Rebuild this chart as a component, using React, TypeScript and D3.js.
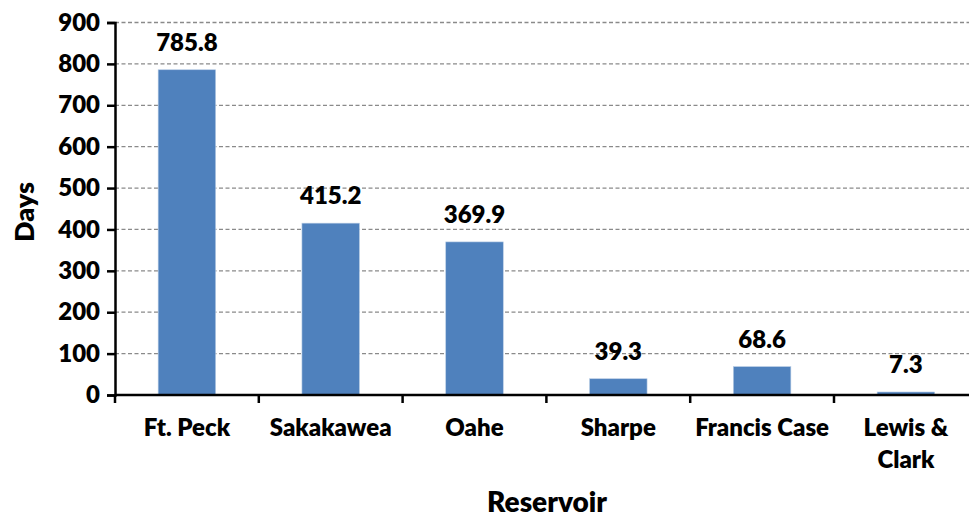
import React, { useEffect, useRef } from 'react';
import * as d3 from 'd3';

const reservoirs = ['Ft. Peck', 'Sakakawea', 'Oahe', 'Sharpe', 'Francis Case', 'Lewis & Clark'];
const days = [785.8, 415.2, 369.9, 39.3, 68.6, 7.3];
const yTicks = [0, 100, 200, 300, 400, 500, 600, 700, 800, 900];

const App = () => {
  const svgRef = useRef<SVGSVGElement | null>(null);

  useEffect(() => {
    const root = d3.select(svgRef.current);
    root.selectAll('*').remove();

    const H = 519;
    const margin = { top: 22.5, left: 115, bottom: 124 };
    const plotW = 6 * 143.8;
    const plotH = H - margin.top - margin.bottom;
    const font = 'Lato, Carlito, Calibri, sans-serif';
    const weight = 800;

    const g = root.append('g').attr('transform', `translate(${margin.left},${margin.top})`);

    const x = d3.scaleBand().domain(reservoirs).range([0, plotW]).paddingInner(0.6).paddingOuter(0.3);
    const y = d3.scaleLinear().domain([0, 900]).range([plotH, 0]);

    // dashed gridlines
    g.selectAll('line.grid')
      .data(yTicks.filter(t => t > 0))
      .join('line')
      .attr('class', 'grid')
      .attr('x1', 0)
      .attr('x2', plotW)
      .attr('y1', d => y(d))
      .attr('y2', d => y(d))
      .attr('stroke', '#8a8a8a')
      .attr('stroke-width', 1.3)
      .attr('stroke-dasharray', '4,2.5');

    // bars
    g.selectAll('rect.bar')
      .data(reservoirs)
      .join('rect')
      .attr('class', 'bar')
      .attr('x', d => x(d)!)
      .attr('width', x.bandwidth())
      .attr('y', (d, i) => y(days[i]))
      .attr('height', (d, i) => plotH - y(days[i]))
      .attr('fill', '#4F81BD')
      .attr('stroke', '#b9cde5')
      .attr('stroke-width', 0.6);

    // value labels
    g.selectAll('text.val')
      .data(reservoirs)
      .join('text')
      .attr('class', 'val')
      .attr('x', d => x(d)! + x.bandwidth() / 2)
      .attr('y', (d, i) => y(days[i]) - 19)
      .attr('text-anchor', 'middle')
      .attr('font-family', font)
      .attr('font-weight', weight)
      .attr('font-size', 24)
      .attr('fill', '#000')
      .text((d, i) => days[i].toFixed(1));

    // y axis
    const yAxis = g.append('g')
      .call(d3.axisLeft(y).tickValues(yTicks).tickSize(8).tickPadding(7));
    yAxis.select('.domain').attr('stroke', '#000').attr('stroke-width', 2.5);
    yAxis.selectAll('.tick line').attr('stroke', '#000').attr('stroke-width', 2.5);
    yAxis.selectAll('.tick text')
      .attr('font-family', font)
      .attr('font-weight', weight)
      .attr('font-size', 24)
      .attr('fill', '#000');

    // x axis
    const xAxis = g.append('g').attr('transform', `translate(0,${plotH})`);
    xAxis.append('line')
      .attr('x1', 0).attr('x2', plotW)
      .attr('stroke', '#000').attr('stroke-width', 2.5);
    xAxis.selectAll('line.tk')
      .data(d3.range(reservoirs.length + 1))
      .join('line')
      .attr('class', 'tk')
      .attr('x1', i => i * x.step())
      .attr('x2', i => i * x.step())
      .attr('y1', 0)
      .attr('y2', 8)
      .attr('stroke', '#000')
      .attr('stroke-width', 2.5);

    const catLines: Record<string, string[]> = { 'Lewis & Clark': ['Lewis &', 'Clark'] };
    const labels = xAxis.selectAll('text.cat')
      .data(reservoirs)
      .join('text')
      .attr('class', 'cat')
      .attr('x', d => x(d)! + x.bandwidth() / 2)
      .attr('y', 41)
      .attr('text-anchor', 'middle')
      .attr('font-family', font)
      .attr('font-weight', weight)
      .attr('font-size', 24)
      .attr('fill', '#000');
    labels.each(function (d) {
      const lines = catLines[d] || [d];
      const t = d3.select(this);
      lines.forEach((ln, i) => {
        t.append('tspan')
          .attr('x', x(d)! + x.bandwidth() / 2)
          .attr('dy', i === 0 ? 0 : 32)
          .text(ln);
      });
    });

    // axis titles
    root.append('text')
      .attr('x', 547)
      .attr('y', 512)
      .attr('text-anchor', 'middle')
      .attr('font-family', font)
      .attr('font-weight', weight)
      .attr('font-size', 28)
      .attr('fill', '#000')
      .text('Reservoir');

    root.append('text')
      .attr('transform', `translate(34,212) rotate(-90)`)
      .attr('text-anchor', 'middle')
      .attr('font-family', font)
      .attr('font-weight', weight)
      .attr('font-size', 27)
      .attr('fill', '#000')
      .text('Days');
  }, []);

  return (
    <svg ref={svgRef} width={969} height={519} style={{ position: 'absolute', left: 0, top: 0, background: '#fff' }}></svg>
  );
};

export default App;
